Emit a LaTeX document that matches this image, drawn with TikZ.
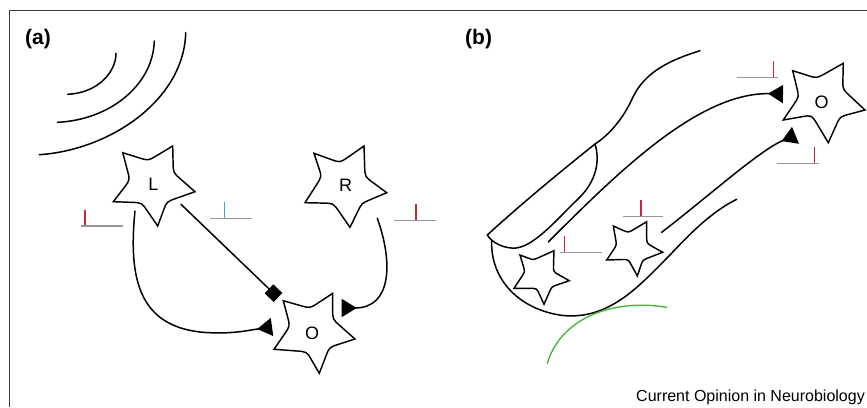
\documentclass[tikz,border=0pt]{standalone}
\usepackage{fontspec}
\setmainfont{Liberation Sans}
\usetikzlibrary{arrows.meta,calc}

\definecolor{spikered}{RGB}{190,45,55}
\definecolor{spikeblue}{RGB}{55,170,225}
\definecolor{tracegray}{RGB}{150,150,150}
\definecolor{gliagreen}{RGB}{70,185,65}
\definecolor{framegray}{RGB}{60,60,60}

\tikzset{
  cell/.style={line width=1.45pt, black, line join=miter},
  fibre/.style={line width=1.5pt, black, line cap=round},
  excit/.style={fibre, -{Triangle[reversed,length=15pt,width=18pt]}},
  inhib/.style={fibre, -{Square[length=12.5pt,width=12.5pt]}},
  trace/.style={line width=1.5pt, tracegray},
  spk/.style={line width=1.6pt},
  glia/.style={line width=1.4pt, gliagreen, line cap=round},
  lbl/.style={inner sep=0pt, font=\fontsize{18}{18}\selectfont},
  panel/.style={inner sep=0pt, anchor=base west, font=\fontsize{21}{21}\selectfont\bfseries},
}

% neuron outline: #1 name, #2 ten points tip/inner alternating, clockwise from upper-left tip
\newcommand\neuron[2]{%
  \foreach \px/\py [count=\k] in {#2}{\coordinate (#1-\k) at (\px,\py);}
  \draw[cell] (#1-1)
    \foreach \ta/\ib/\tn in {1/2/3,3/4/5,5/6/7,7/8/9}{
      -- ($(#1-\ta)!0.65!(#1-\ib)$) .. controls (#1-\ib) .. ($(#1-\ib)!0.35!(#1-\tn)$) -- (#1-\tn)}
    -- ($(#1-9)!0.65!(#1-10)$) .. controls (#1-10) .. ($(#1-10)!0.35!(#1-1)$) -- cycle;
}

% recording trace: #1 left x, #2 right x, #3 baseline y, #4 spike x, #5 spike colour
\newcommand\spiketrace[5]{%
  \draw[trace] (#1,#3) -- (#2,#3);
  \draw[spk,#5] (#4,#3-0.6) -- (#4,#3-16.5);
}

\begin{document}
\begin{tikzpicture}[x=1pt,y=-1pt]
\useasboundingbox (0,0) rectangle (867,407);
\fill[white] (0,0) rectangle (867,407);

% frame
\draw[framegray, line width=1pt] (9,407) -- (9,10.7) -- (867,10.7);

% ---------------- panel (a) ----------------
\node[panel] (pa) at (25,44) {(a)};

% sound waves
\draw[fibre] (39.3,154.7) .. controls (110,150) and (184,100) .. (185.7,32.7);
\draw[fibre] (57.3,122.3) .. controls (110,120) and (153,85) .. (154.3,41);
\draw[fibre] (67.7,94.3) .. controls (98,93) and (116,72) .. (116,53.3);

% neurons
\neuron{L}{122.7/152.7, 148.3/160.7, 172.7/146, 173.3/172.7, 195/191.7, 166.7/201.7, 157.7/226, 141.7/202.7, 113.3/201.7, 130/180}
\node[lbl] (Ltxt) at (153.5,184) {L};
\neuron{R}{314/153.3, 340/162.7, 364/146, 365/176.7, 386.7/192.7, 361.7/203.3, 350/227.3, 333.3/203.3, 305/202.7, 321.7/176.7}
\node[lbl] (Rtxt) at (345.5,185.3) {R};
\neuron{Oa}{283.3/300.7, 310/308.3, 332.7/293.3, 332.7/319.3, 355/339, 329.3/347.3, 319.3/373.3, 306.7/351.7, 274/349.3, 290/326}
\node[lbl] (Oatxt) at (312,333.3) {O};

% connections
\coordinate (L-ax1) at (135,211);
\coordinate (Oa-syn1) at (272,327);
\draw[excit] (L-ax1) .. controls (128,280) and (140,325) .. (200,332)
  .. controls (230,335) and (250,330) .. (Oa-syn1);
\coordinate (L-ax2) at (181,204.3);
\coordinate (Oa-syn2) at (278,297.5);
\draw[inhib] (L-ax2) -- (Oa-syn2);
\coordinate (R-ax) at (377.3,218.3);
\coordinate (Oa-syn3) at (341.7,308);
\draw[excit] (R-ax) .. controls (393,262) and (392,308) .. (Oa-syn3);

% recordings
\spiketrace{81}{122.7}{226}{85}{spikered}
\spiketrace{210}{251.7}{218.7}{224.5}{spikeblue}
\spiketrace{394}{435.5}{220.7}{416}{spikered}

% ---------------- panel (b) ----------------
\node[panel] (pb) at (465,44) {(b)};

% tissue outline
\draw[fibre] (595,144) .. controls (560,172) and (520,205) .. (487.3,235)
  .. controls (492,243) and (505,249) .. (516,248)
  .. controls (535,246) and (558,218) .. (578,199)
  .. controls (597,181) and (600,160) .. (595,144);
\draw[fibre] (595,144) .. controls (612,133) and (625,115) .. (633,97)
  .. controls (645,72) and (670,60) .. (700,50.7);
\draw[fibre] (491.7,240) .. controls (490,280) and (520,310) .. (563,315.5)
  .. controls (610,320) and (640,285) .. (670,255)
  .. controls (695,228) and (715,210) .. (736.7,199.3);
\draw[glia] (547.3,363.3) .. controls (560,320) and (610,298) .. (666.7,307.3);

% neurons
\neuron{B1}{520/255, 533.3/260, 554/250.7, 553.3/271.7, 569.3/280.7, 551.7/286.7, 544/304.3, 536.7/288.3, 514/288.3, 525/271.7}
\neuron{B2}{613.3/226, 628.3/232.7, 646.7/221.7, 646.7/243.3, 662.7/252.3, 642.7/260, 637.3/276, 628.3/259.3, 606.7/260, 616.7/245}
\neuron{Ob}{792.7/70.7, 816.7/78.3, 843.3/63.3, 842.7/89.3, 865/110, 840/116.7, 828.3/142.7, 811.7/115, 783.3/120, 799/96.7}
\node[lbl] (Obtxt) at (821.5,102.7) {O};

% connections
\coordinate (B1-ax) at (548.3,242);
\coordinate (Ob-syn1) at (783,94);
\draw[excit] (B1-ax) .. controls (620,170) and (700,92) .. (Ob-syn1);
\coordinate (B2-ax) at (661.7,232.3);
\coordinate (Ob-syn2) at (795.5,135.3);
\draw[excit] (B2-ax) .. controls (710,195) and (760,150) .. (Ob-syn2);

% recordings
\spiketrace{560}{601.7}{252.7}{564.3}{spikered}
\spiketrace{622.7}{663.3}{216.3}{640.8}{spikered}
\spiketrace{736.7}{778.3}{77.3}{773.3}{spikered}
\spiketrace{777.3}{819.3}{163.3}{814.3}{spikered}

% credit line
\node[inner sep=0pt, anchor=base east, font=\fontsize{16}{16}\selectfont] (credit) at (865,401) {Current Opinion in Neurobiology};
\end{tikzpicture}
\end{document}
